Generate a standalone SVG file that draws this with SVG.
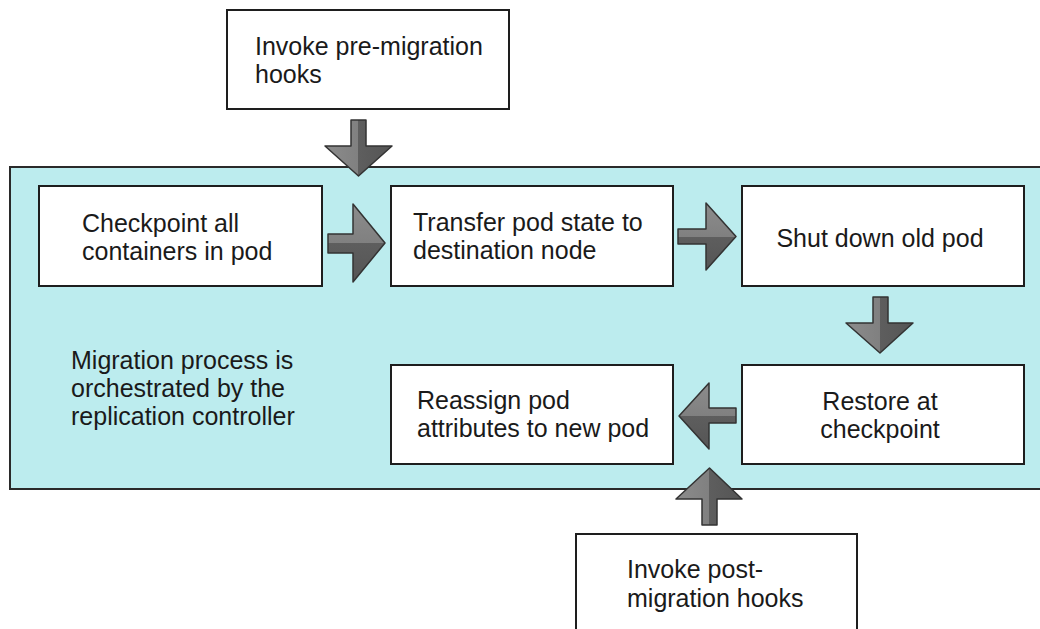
<svg xmlns="http://www.w3.org/2000/svg" width="1040" height="629" viewBox="0 0 1040 629">
  <defs>
    <linearGradient id="gv" x1="0" y1="0" x2="1" y2="0">
      <stop offset="0" stop-color="#8c8c8c"/>
      <stop offset="0.5" stop-color="#808080"/>
      <stop offset="0.5" stop-color="#5e5e5e"/>
      <stop offset="1" stop-color="#555555"/>
    </linearGradient>
    <linearGradient id="gh" x1="0" y1="0" x2="0" y2="1">
      <stop offset="0" stop-color="#8c8c8c"/>
      <stop offset="0.5" stop-color="#808080"/>
      <stop offset="0.5" stop-color="#5e5e5e"/>
      <stop offset="1" stop-color="#555555"/>
    </linearGradient>
  </defs>
  <style>
    .box { fill: #ffffff; stroke: #1e1e1e; stroke-width: 2; }
    .area { fill: #bcecee; stroke: #2a2a2a; stroke-width: 2; }
    .t { font-family: "Liberation Sans", Arial, sans-serif; font-size: 25px; fill: #1a1a1a; }
    .c { text-anchor: middle; }
    .av { fill: url(#gv); stroke: #333333; stroke-width: 1.5; stroke-linejoin: round; }
    .ah { fill: url(#gh); stroke: #333333; stroke-width: 1.5; stroke-linejoin: round; }
  </style>
  <rect width="1040" height="629" fill="#ffffff"/>

  <g id="orchestration-area">
    <rect class="area" x="10" y="167" width="1040" height="322"/>
    <text class="t" x="71" y="369">Migration process is</text>
    <text class="t" x="71" y="397">orchestrated by the</text>
    <text class="t" x="71" y="425">replication controller</text>
  </g>

  <g id="pre-migration">
    <rect class="box" x="227" y="10" width="282" height="99"/>
    <text class="t" x="255" y="55">Invoke pre-migration</text>
    <text class="t" x="255" y="83">hooks</text>
  </g>

  <g id="checkpoint">
    <rect class="box" x="39" y="186" width="283" height="100"/>
    <text class="t" x="82" y="232">Checkpoint all</text>
    <text class="t" x="82" y="260">containers in pod</text>
  </g>

  <g id="transfer">
    <rect class="box" x="391" y="186" width="282" height="100"/>
    <text class="t" x="413" y="231">Transfer pod state to</text>
    <text class="t" x="413" y="259">destination node</text>
  </g>

  <g id="shutdown">
    <rect class="box" x="742" y="186" width="282" height="100"/>
    <text class="t c" x="880" y="247">Shut down old pod</text>
  </g>

  <g id="restore">
    <rect class="box" x="742" y="365" width="282" height="99"/>
    <text class="t c" x="880" y="410">Restore at</text>
    <text class="t c" x="880" y="438">checkpoint</text>
  </g>

  <g id="reassign">
    <rect class="box" x="391" y="365" width="282" height="99"/>
    <text class="t" x="417" y="409">Reassign pod</text>
    <text class="t" x="417" y="437">attributes to new pod</text>
  </g>

  <g id="post-migration">
    <rect class="box" x="576" y="534" width="281" height="110"/>
    <text class="t" x="627" y="578">Invoke post-</text>
    <text class="t" x="627" y="607">migration hooks</text>
  </g>

  <g id="connectors">
    <!-- pre-migration down -->
    <polygon class="av" points="351,120 366,120 366,146 392,146 358.5,176 325,146 351,146"/>
    <!-- checkpoint -> transfer -->
    <polygon class="ah" points="328,234 353,234 353,204 385,243 353,282 353,253 328,253"/>
    <!-- transfer -> shutdown -->
    <polygon class="ah" points="678,229 706,229 706,203 736,236.5 706,270 706,244 678,244"/>
    <!-- shutdown -> restore -->
    <polygon class="av" points="873,297 888,297 888,323 913,323 880,353 846,323 873,323"/>
    <!-- restore -> reassign -->
    <polygon class="ah" points="736,408 709,408 709,383 679,416 709,449 709,423 736,423"/>
    <!-- post-migration up -->
    <polygon class="av" points="702,525 717,525 717,499 742,499 709.5,468 676,499 702,499"/>
  </g>
</svg>
